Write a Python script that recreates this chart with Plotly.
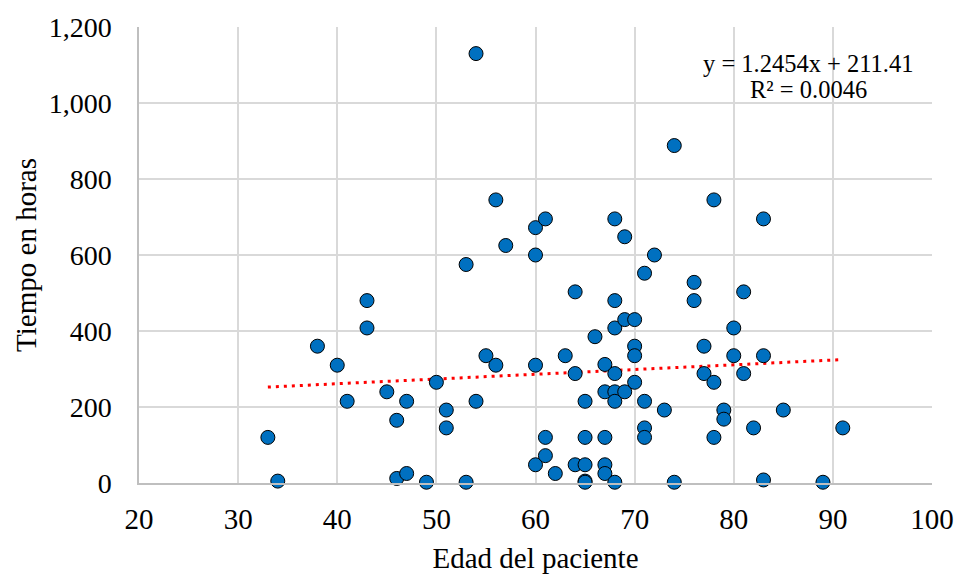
import plotly.graph_objects as go

edad = [33, 34, 38, 40, 41, 43, 43, 45, 46, 46, 47, 47, 49, 50, 51, 51, 53, 53, 54, 54,
        55, 56, 56, 57, 60, 60, 60, 60, 61, 61, 61, 62, 63, 64, 64, 64, 65, 65, 65, 65,
        65, 66, 67, 67, 67, 67, 67, 68, 68, 68, 68, 68, 68, 68, 69, 69, 69, 70, 70, 70,
        70, 71, 71, 71, 71, 72, 73, 74, 74, 76, 76, 77, 77, 78, 78, 78, 79, 79, 80, 80,
        81, 81, 82, 83, 83, 83, 85, 89, 91]
horas = [120, 5, 360, 310, 215, 480, 408, 240, 165, 12, 215, 25, 2, 265, 192, 145, 575, 2, 1130, 215,
         335, 745, 310, 625, 672, 600, 310, 48, 695, 120, 72, 25, 335, 503, 288, 48, 215, 120, 48, 5,
         2, 385, 312, 240, 120, 48, 25, 695, 480, 408, 288, 240, 215, 2, 648, 430, 240, 430, 360, 335,
         265, 552, 215, 145, 120, 600, 192, 888, 2, 528, 480, 360, 288, 745, 265, 120, 192, 168, 408, 335,
         503, 288, 145, 695, 335, 8, 192, 2, 145]

pendiente = 1.2454
intercepto = 211.41
ecuacion = ["y = 1.2454x + 211.41", "R² = 0.0046"]

x_tend = [min(edad), max(edad)]
y_tend = [pendiente * v + intercepto for v in x_tend]

FONT = "Liberation Serif, Times New Roman, serif"

fig = go.Figure()
fig.add_trace(go.Scatter(
    x=x_tend, y=y_tend, mode="lines",
    line=dict(color="#FF0000", width=3, dash="3px,5px"),
    hoverinfo="skip", showlegend=False))
fig.add_trace(go.Scatter(
    x=edad, y=horas, mode="markers",
    marker=dict(size=14, color="#0070C0", line=dict(color="#000000", width=1)),
    cliponaxis=False, showlegend=False))

for txt, yp in zip(ecuacion, [0.919, 0.864]):
    fig.add_annotation(
        x=0.844, y=yp, xref="paper", yref="paper", xanchor="center", yanchor="middle",
        text=txt, showarrow=False, align="center",
        font=dict(family=FONT, size=24.5, color="#000000"))

fig.update_layout(
    width=956, height=574,
    margin=dict(l=139, r=24, t=27, b=91, autoexpand=False),
    paper_bgcolor="white", plot_bgcolor="white",
    font=dict(family=FONT, size=28, color="#000000"),
    xaxis=dict(range=[20, 100], dtick=10, tick0=20, automargin=False,
               showgrid=True, gridcolor="#D9D9D9", gridwidth=1.5,
               showline=True, linecolor="#BFBFBF", linewidth=1.5,
               zeroline=False, ticks="", ticklen=0, ticklabelstandoff=9,
               tickfont=dict(size=29),
               title=dict(text="Edad del paciente", font=dict(size=29), standoff=14)),
    yaxis=dict(range=[0, 1200], dtick=200, tick0=0, tickformat=",", automargin=False,
               showgrid=True, gridcolor="#D9D9D9", gridwidth=1.5,
               showline=True, linecolor="#BFBFBF", linewidth=1.5,
               zeroline=False, ticks="", ticklen=0, ticklabelstandoff=20,
               tickfont=dict(size=28),
               title=dict(text="Tiempo en horas", font=dict(size=29), standoff=4)),
)

fig.write_html("out.html")
